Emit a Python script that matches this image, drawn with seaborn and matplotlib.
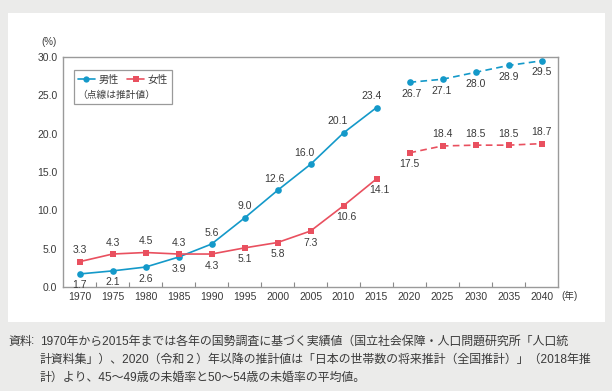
import matplotlib
matplotlib.use("Agg")
import matplotlib.pyplot as plt
from matplotlib.lines import Line2D
from matplotlib.patches import Rectangle
import seaborn as sns

# data
years_actual = [1970, 1975, 1980, 1985, 1990, 1995, 2000, 2005, 2010, 2015]
years_proj = [2020, 2025, 2030, 2035, 2040]
male_actual = [1.7, 2.1, 2.6, 3.9, 5.6, 9.0, 12.6, 16.0, 20.1, 23.4]
female_actual = [3.3, 4.3, 4.5, 4.3, 4.3, 5.1, 5.8, 7.3, 10.6, 14.1]
male_proj = [26.7, 27.1, 28.0, 28.9, 29.5]
female_proj = [17.5, 18.4, 18.5, 18.5, 18.7]
all_years = years_actual + years_proj
y_ticks = [0, 5, 10, 15, 20, 25, 30]

caption_lines = [
    "1970年から2015年までは各年の国勢調査に基づく実績値（国立社会保障・人口問題研究所「人口統",
    "計資料集」）、2020（令和２）年以降の推計値は「日本の世帯数の将来推計（全国推計）」（2018年推",
    "計）より、45〜49歳の未婚率と50〜54歳の未婚率の平均値。",
]

blue = "#1499c9"
red = "#e9505f"
txt = "#3a3a3a"

sns.set_theme(style="white")
plt.rcParams["font.family"] = ["Liberation Sans", "Noto Sans CJK JP", "DejaVu Sans"]

fig = plt.figure(figsize=(6.12, 3.91), dpi=100)
fig.patch.set_facecolor("#ebebea")
# white panel behind the chart
fig.add_artist(Rectangle((8 / 612, 1 - 322 / 391), 597 / 612, 309 / 391,
                         transform=fig.transFigure, facecolor="white",
                         edgecolor="none", zorder=-1))
ax = fig.add_axes([63 / 612, 1 - 287 / 391, 495 / 612, 230 / 391])

line_kw = dict(linewidth=1.2, markersize=4.8, markeredgewidth=0)
sns.lineplot(x=years_actual, y=male_actual, color=blue, marker="o",
             markeredgecolor=blue, ax=ax, **line_kw)
sns.lineplot(x=years_actual, y=female_actual, color=red, marker="s",
             markeredgecolor=red, ax=ax, **line_kw)
sns.lineplot(x=years_proj, y=male_proj, color=blue, marker="o",
             markeredgecolor=blue, linestyle=(0, (4, 2.6)), ax=ax, **line_kw)
sns.lineplot(x=years_proj, y=female_proj, color=red, marker="s",
             markeredgecolor=red, linestyle=(0, (4, 2.6)), ax=ax, **line_kw)

# value labels: +1 above, -1 below, second item is x shift in px
male_pos = [(-1, 0), (-1, 0), (-1, 0), (-1, 0), (1, 0), (1, 0), (1, -3), (1, -6), (1, -6), (1, -5),
            (-1, 2), (-1, -1), (-1, 0), (-1, 0), (-1, 0)]
female_pos = [(1, 0), (1, 0), (1, 0), (1, 0), (-1, 0), (-1, 0), (-1, 0), (-1, 0), (-1, 3), (-1, 3),
              (-1, 0), (1, 0), (1, 0), (1, 0), (1, 0)]
for yr, v, (side, dx) in zip(all_years, male_actual + male_proj, male_pos):
    ax.annotate(f"{v:.1f}", (yr, v), xytext=(dx * 0.72, side * 8.3),
                textcoords="offset points", ha="center", va="center",
                fontsize=7.5, color=txt)
for yr, v, (side, dx) in zip(all_years, female_actual + female_proj, female_pos):
    ax.annotate(f"{v:.1f}", (yr, v), xytext=(dx * 0.72, side * 8.3),
                textcoords="offset points", ha="center", va="center",
                fontsize=7.5, color=txt)

ax.set_xlim(1967.5, 2042.5)
ax.set_ylim(0, 30)
ax.set_xticks(all_years)
ax.set_xticklabels([str(y) for y in all_years])
ax.set_xticks([y + 2.5 for y in all_years[:-1]], minor=True)
ax.set_yticks(y_ticks)
ax.set_yticklabels([f"{y:.1f}" for y in y_ticks])
ax.tick_params(axis="x", which="major", length=0, pad=3.5, labelsize=7.5, labelcolor=txt)
ax.tick_params(axis="x", which="minor", direction="in", length=3.5, width=0.8,
               color="#8a8a8a", bottom=True)
ax.tick_params(axis="y", length=0, pad=4, labelsize=7.5, labelcolor=txt)
for s in ax.spines.values():
    s.set_color("#9a9a9a")
    s.set_linewidth(1.0)
ax.set_xlabel("")
ax.set_ylabel("")

fig.text(57 / 612, 1 - 42 / 391, "(%)", ha="right", va="center", fontsize=7, color=txt)
fig.text(561 / 612, 1 - 296 / 391, "(年)", ha="left", va="center", fontsize=7, color=txt)

# legend box with note line
ax.add_patch(Rectangle((0.022, 0.796), 0.199, 0.148, transform=ax.transAxes,
                       facecolor="white", edgecolor="#9a9a9a", linewidth=0.9, zorder=3))
handles = [Line2D([], [], color=blue, marker="o", lw=1.2, ms=4.5, mec=blue, mew=0),
           Line2D([], [], color=red, marker="s", lw=1.2, ms=4.5, mec=red, mew=0)]
leg = ax.legend(handles, ["男性", "女性"], loc="center left", bbox_to_anchor=(0.031, 0.902),
                ncol=2, frameon=False, fontsize=7.3, handlelength=1.6, handletextpad=0.4,
                columnspacing=0.85, borderaxespad=0.0, borderpad=0.0)
leg.set_zorder(4)
for t in leg.get_texts():
    t.set_color(txt)
ax.text(0.029, 0.836, "（点線は推計値）", transform=ax.transAxes, ha="left", va="center",
        fontsize=7, color=txt, zorder=4)

# source note under the panel
fig.text(8 / 612, 1 - 341.5 / 391, "資料", ha="left", va="center", fontsize=8.6, color=txt)
fig.text(31 / 612, 1 - 341.5 / 391, ":", ha="left", va="center", fontsize=8.6, color=txt)
for i, line in enumerate(caption_lines):
    fig.text(40 / 612, 1 - (341.5 + 18.2 * i) / 391, line, ha="left", va="center",
             fontsize=8.6, color=txt)

fig.savefig("out.png", dpi=100, facecolor=fig.get_facecolor())
